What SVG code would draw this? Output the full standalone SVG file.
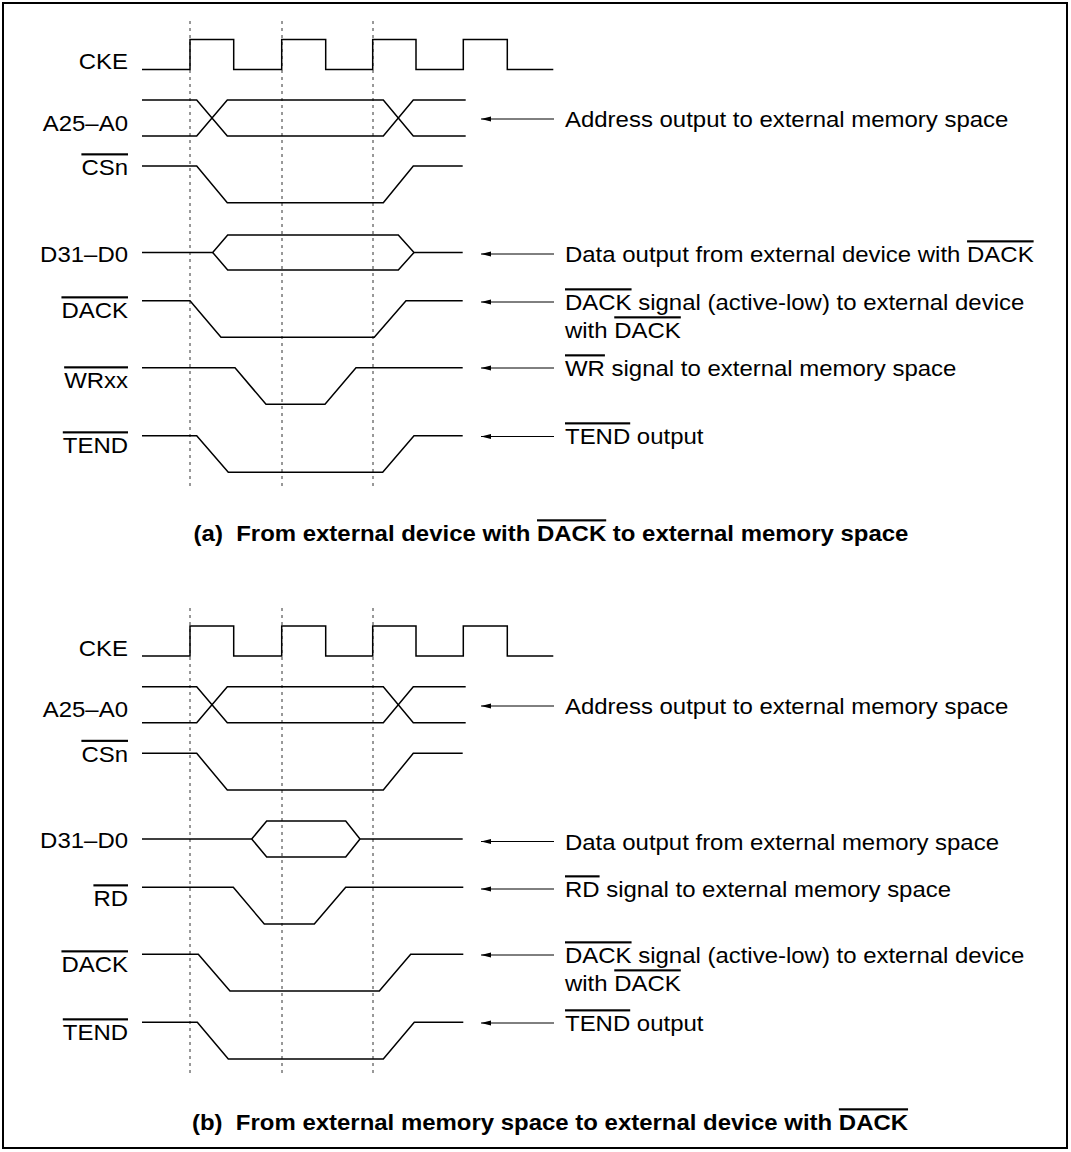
<svg xmlns="http://www.w3.org/2000/svg" width="1071" height="1152" viewBox="0 0 1071 1152">
<style>
.sig{fill:none;stroke:#000;stroke-width:1.5;stroke-linejoin:miter}
.dot{fill:none;stroke:#333;stroke-width:1;stroke-dasharray:3 4}
.arr{fill:none;stroke:#000;stroke-width:1;marker-end:url(#ah)}
.lbl{font-family:"Liberation Sans",Arial,sans-serif;font-size:21.5px;fill:#000;text-anchor:end}
.txt{font-family:"Liberation Sans",Arial,sans-serif;font-size:21.5px;fill:#000}
.cap{font-family:"Liberation Sans",Arial,sans-serif;font-size:21.5px;font-weight:bold;fill:#000;text-anchor:middle}
.ov{text-decoration:overline}
</style>
<defs>
<marker id="ah" markerUnits="userSpaceOnUse" markerWidth="12" markerHeight="8" refX="10" refY="4" orient="auto">
<path d="M0,1.5 L10,4 L0,6.5 z" fill="#000"/>
</marker>
</defs>
<rect x="3" y="3" width="1064" height="1145" fill="#fff" stroke="#000" stroke-width="2"/>

<g id="gridA">
<line class="dot" x1="190" y1="21" x2="190" y2="487"/>
<line class="dot" x1="282" y1="21" x2="282" y2="487"/>
<line class="dot" x1="373" y1="21" x2="373" y2="487"/>
</g>
<g id="gridB">
<line class="dot" x1="190" y1="608" x2="190" y2="1074"/>
<line class="dot" x1="282" y1="608" x2="282" y2="1074"/>
<line class="dot" x1="373" y1="608" x2="373" y2="1074"/>
</g>

<g id="a-cke"><text class="lbl" transform="translate(128,69) scale(1.115,1)">CKE</text>
<path class="sig" d="M142,69.5 H190 V39.5 H233.7 V69.5 H281.7 V39.5 H325.7 V69.5 H372.7 V39.5 H416 V69.5 H463.3 V39.5 H507.3 V69.5 H553.3"/></g>
<g id="a-addr"><text class="lbl" transform="translate(128,130.5) scale(1.115,1)">A25–A0</text>
<path class="sig" d="M142,100 H196.7 L227.3,136 H383.3 L413.3,100 H465.7"/>
<path class="sig" d="M142,136 H196.7 L227.3,100 H383.3 L413.3,136 H465.7"/></g>
<g id="a-cs"><text class="lbl" transform="translate(128,175) scale(1.115,1)"><tspan class="ov">CSn</tspan></text>
<path class="sig" d="M142,166 H196.7 L227.3,202.7 H383.3 L413.3,166 H462.7"/></g>
<g id="a-data"><text class="lbl" transform="translate(128,261.5) scale(1.115,1)">D31–D0</text>
<path class="sig" d="M142,252.5 H212.7 L227.7,235 H398.3 L414,252.5 H462.7"/>
<path class="sig" d="M212.7,252.5 L227.7,270 H398.3 L414,252.5"/></g>
<g id="a-dack"><text class="lbl" transform="translate(128,318) scale(1.115,1)"><tspan class="ov">DACK</tspan></text>
<path class="sig" d="M142,300.7 H190 L221,337.3 H374.3 L406,300.7 H462.7"/></g>
<g id="a-wr"><text class="lbl" transform="translate(128,388) scale(1.115,1)"><tspan class="ov">WRxx</tspan></text>
<path class="sig" d="M142,367.7 H235 L266,404.3 H325 L356,367.7 H462.7"/></g>
<g id="a-tend"><text class="lbl" transform="translate(128,453) scale(1.115,1)"><tspan class="ov">TEND</tspan></text>
<path class="sig" d="M142,435.7 H196.7 L228.3,472.3 H382.7 L414,435.7 H462.7"/></g>

<g id="a-notes">
<text class="txt" transform="translate(565,127) scale(1.115,1)">Address output to external memory space</text>
<text class="txt" transform="translate(565,262) scale(1.115,1)">Data output from external device with <tspan class="ov">DACK</tspan></text>
<text class="txt" transform="translate(565,310) scale(1.115,1)"><tspan class="ov">DACK</tspan> signal (active-low) to external device</text>
<text class="txt" transform="translate(565,338) scale(1.115,1)">with <tspan class="ov">DACK</tspan></text>
<text class="txt" transform="translate(565,376) scale(1.115,1)"><tspan class="ov">WR</tspan> signal to external memory space</text>
<text class="txt" transform="translate(565,444) scale(1.115,1)"><tspan class="ov">TEND</tspan> output</text>
</g>

<text id="cap-a" class="cap" transform="translate(551,541) scale(1.115,1)">(a)&#160; From external device with <tspan class="ov">DACK</tspan> to external memory space</text>

<g id="b-cke"><text class="lbl" transform="translate(128,655.5) scale(1.115,1)">CKE</text>
<path class="sig" d="M142,656 H190 V626 H233.7 V656 H281.7 V626 H325.7 V656 H372.7 V626 H416 V656 H463.3 V626 H507.3 V656 H553.3"/></g>
<g id="b-addr"><text class="lbl" transform="translate(128,717) scale(1.115,1)">A25–A0</text>
<path class="sig" d="M142,686.7 H196.7 L227.3,722.7 H383.3 L413.3,686.7 H465.7"/>
<path class="sig" d="M142,722.7 H196.7 L227.3,686.7 H383.3 L413.3,722.7 H465.7"/></g>
<g id="b-cs"><text class="lbl" transform="translate(128,761.5) scale(1.115,1)"><tspan class="ov">CSn</tspan></text>
<path class="sig" d="M142,753.3 H196.7 L227.3,790 H383.3 L413.3,753.3 H462.7"/></g>
<g id="b-data"><text class="lbl" transform="translate(128,848) scale(1.115,1)">D31–D0</text>
<path class="sig" d="M142,839 H251.7 L266.7,821 H345.7 L360,839 H462.7"/>
<path class="sig" d="M251.7,839 L266.7,857 H345.7 L360,839"/></g>
<g id="b-rd"><text class="lbl" transform="translate(128,906) scale(1.115,1)"><tspan class="ov">RD</tspan></text>
<path class="sig" d="M142,887.3 H233.3 L264.3,924 H314.3 L345.7,887.3 H463.3"/></g>
<g id="b-dack"><text class="lbl" transform="translate(128,972) scale(1.115,1)"><tspan class="ov">DACK</tspan></text>
<path class="sig" d="M142,954.3 H198.3 L230,991 H379.3 L410.7,954.3 H463.3"/></g>
<g id="b-tend"><text class="lbl" transform="translate(128,1040) scale(1.115,1)"><tspan class="ov">TEND</tspan></text>
<path class="sig" d="M142,1022.3 H197.3 L228.3,1059 H383.3 L414.3,1022.3 H463.3"/></g>

<g id="b-notes">
<text class="txt" transform="translate(565,714) scale(1.115,1)">Address output to external memory space</text>
<text class="txt" transform="translate(565,850) scale(1.115,1)">Data output from external memory space</text>
<text class="txt" transform="translate(565,897) scale(1.115,1)"><tspan class="ov">RD</tspan> signal to external memory space</text>
<text class="txt" transform="translate(565,963) scale(1.115,1)"><tspan class="ov">DACK</tspan> signal (active-low) to external device</text>
<text class="txt" transform="translate(565,991) scale(1.115,1)">with <tspan class="ov">DACK</tspan></text>
<text class="txt" transform="translate(565,1031) scale(1.115,1)"><tspan class="ov">TEND</tspan> output</text>
</g>

<text id="cap-b" class="cap" transform="translate(550,1130) scale(1.115,1)">(b)&#160; From external memory space to external device with <tspan class="ov">DACK</tspan></text>

<g id="connectors">
<line class="arr" x1="554" y1="119" x2="481" y2="119"/>
<line class="arr" x1="554" y1="254" x2="481" y2="254"/>
<line class="arr" x1="554" y1="302" x2="481" y2="302"/>
<line class="arr" x1="554" y1="368" x2="481" y2="368"/>
<line class="arr" x1="554" y1="436.5" x2="481" y2="436.5"/>
<line class="arr" x1="554" y1="706" x2="481" y2="706"/>
<line class="arr" x1="554" y1="841.5" x2="481" y2="841.5"/>
<line class="arr" x1="554" y1="889" x2="481" y2="889"/>
<line class="arr" x1="554" y1="955" x2="481" y2="955"/>
<line class="arr" x1="554" y1="1023" x2="481" y2="1023"/>
</g>
</svg>
